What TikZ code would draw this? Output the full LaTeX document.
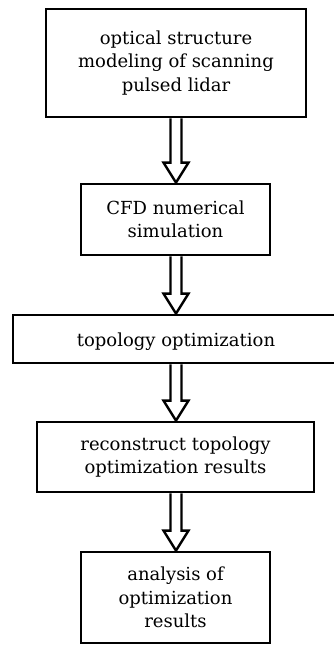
\documentclass[tikz,border=0pt]{standalone}
\usepackage{fontspec}
\setmainfont{DejaVu Serif}
\usetikzlibrary{calc}
% taller first line so the text block sits a little lower in its box
\newcommand{\topstrut}{\rule{0pt}{18.5pt}}
\begin{document}
\begin{tikzpicture}[x=1pt,y=-1pt,
  stage/.style={draw=black, line width=2.8pt, fill=white, align=center,
    font=\fontsize{18}{23.5}\selectfont, inner sep=0pt,
    execute at begin node=\topstrut},
  hollow/.style={draw=black, line width=2.4pt, fill=white, line join=miter}]
\useasboundingbox (0,0) rectangle (333,645);

% process stages
\node[stage, minimum width=260pt, minimum height=108pt] (s1) at (176,63)
  {optical structure\\modeling of scanning\\pulsed lidar};
\node[stage, minimum width=189pt, minimum height=71pt] (s2) at (175.5,219.5)
  {CFD numerical\\simulation};
\node[stage, minimum width=326pt, minimum height=48pt] (s3) at (176,339)
  {topology optimization};
\node[stage, minimum width=277pt, minimum height=70pt] (s4) at (175.5,457)
  {reconstruct topology\\optimization results};
\node[stage, minimum width=189pt, minimum height=91pt] (s5) at (175.5,597.5)
  {analysis of\\optimization\\results};

% hollow block arrows on a common vertical axis
\coordinate (axis) at (176,0);
\newcommand{\blockarrow}[2]{%
  \path let \p1=(#1.south -| axis), \p2=(#2.north -| axis) in
    [hollow] (\x1-5.5,\y1) -- (\x1-5.5,\y2+20) -- (\x1-12.5,\y2+20)
    -- (\x2,\y2) -- (\x1+12.5,\y2+20) -- (\x1+5.5,\y2+20)
    -- (\x1+5.5,\y1);}
\blockarrow{s1}{s2}
\blockarrow{s2}{s3}
\blockarrow{s3}{s4}
\blockarrow{s4}{s5}
\end{tikzpicture}
\end{document}
